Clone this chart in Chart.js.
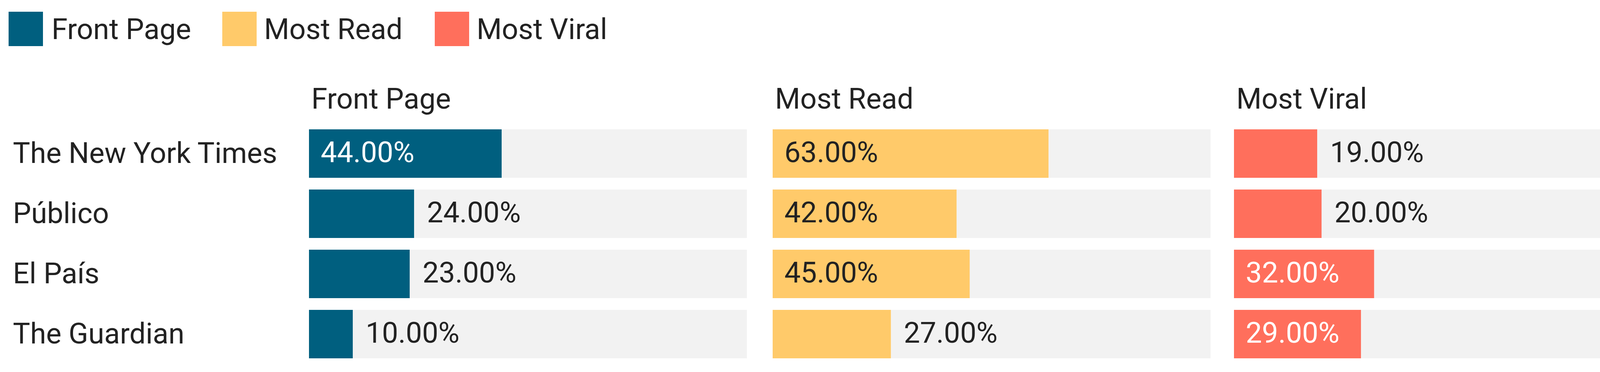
<!DOCTYPE html>
<html><head><meta charset="utf-8">
<script src="https://cdn.jsdelivr.net/npm/chart.js@4"></script>
<style>
body{margin:0;width:4307px;height:952px;background:#fff;font-family:Roboto,sans-serif;color:#222;position:relative;overflow:hidden}
.abs{position:absolute;white-space:nowrap;font-size:74px;line-height:1}
.sq{position:absolute;width:88px;height:88px}
canvas{position:absolute}
</style></head><body>
<script>
const categories=["The New York Times","Público","El País","The Guardian"];
const seriesNames=["Front Page","Most Read","Most Viral"];
const frontPage=[44,24,23,10];
const mostRead=[63,42,45,27];
const mostViral=[19,20,32,29];
const colors=["#005f7f","#ffca6a","#ff6f5c"];
const labelColorsInside=["#ffffff","#222222","#ffffff"];
const series=[frontPage,mostRead,mostViral];
const panelX=[791,1978,3159], panelW=1121;
const top0=316, chartH=616;

const legX=[[22,132],[569,676],[1113,1220]];
seriesNames.forEach((n,i)=>{
  const s=document.createElement('div');s.className='sq';s.style.left=legX[i][0]+'px';s.style.top='30px';s.style.background=colors[i];document.body.appendChild(s);
  const t=document.createElement('div');t.className='abs';t.textContent=n;t.style.left=legX[i][1]+'px';t.style.top='38px';document.body.appendChild(t);
  const h=document.createElement('div');h.className='abs';h.textContent=n;h.style.left=(panelX[i]+6)+'px';h.style.top='216px';document.body.appendChild(h);
});
categories.forEach((c,j)=>{
  const t=document.createElement('div');t.className='abs';t.textContent=c;t.style.left='33px';t.style.top=(top0+77+j*154-38)+'px';document.body.appendChild(t);
});

const labelPlugin={id:'lbl',afterDatasetsDraw(chart){
  const ctx=chart.ctx, idx=chart.options.plugins.lbl.idx;
  const meta=chart.getDatasetMeta(0);
  ctx.save();ctx.font='74px Roboto';ctx.textBaseline='middle';ctx.textAlign='left';
  meta.data.forEach((bar,j)=>{
    const v=series[idx][j];const txt=v.toFixed(2)+'%';
    if(v>=28){ctx.fillStyle=labelColorsInside[idx];ctx.fillText(txt,bar.base+30,bar.y+3);}
    else{ctx.fillStyle='#222';ctx.fillText(txt,bar.x+33,bar.y+3);}
  });
  ctx.restore();
}};

series.forEach((vals,i)=>{
  const cv=document.createElement('canvas');
  cv.style.left='0';cv.style.top='0';cv.style.width=panelW+'px';cv.style.height=chartH+'px';
  cv.width=panelW;cv.height=chartH;
  const wrap=document.createElement('div');wrap.style.cssText=`position:absolute;left:${panelX[i]}px;top:${top0}px;width:${panelW}px;height:${chartH}px`;
  wrap.appendChild(cv);document.body.appendChild(wrap);
  new Chart(cv,{type:'bar',
    data:{labels:categories,datasets:[
      {data:vals,backgroundColor:colors[i],categoryPercentage:0.806,barPercentage:1},
      {data:vals.map(v=>100-v),backgroundColor:'#f2f2f2',categoryPercentage:0.806,barPercentage:1}
    ]},
    options:{indexAxis:'y',responsive:false,animation:false,devicePixelRatio:1,
      layout:{padding:0},
      scales:{x:{stacked:true,min:0,max:100,display:false},y:{stacked:true,display:false}},
      plugins:{legend:{display:false},tooltip:{enabled:false},lbl:{idx:i}}},
    plugins:[labelPlugin]});
});
</script>
</body></html>
